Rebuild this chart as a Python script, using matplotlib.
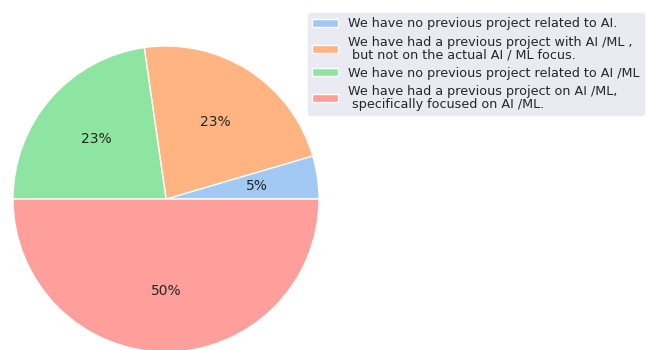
import matplotlib
matplotlib.use("Agg")
import matplotlib.pyplot as plt
import seaborn as sns

sns.set_style("darkgrid")

labels = [
    "We have no previous project related to AI.",
    "We have had a previous project with AI /ML ,\n but not on the actual AI / ML focus.",
    "We have no previous project related to AI /ML",
    "We have had a previous project on AI /ML,\n specifically focused on AI /ML.",
]
counts = [1, 5, 5, 11]
colors = sns.color_palette("pastel")[0:4]

fig = plt.figure(figsize=(6.46, 3.5), dpi=100)
ax = fig.add_axes([13 / 646, -2 / 350, 306 / 646, 306 / 350])
ax.pie(counts, colors=colors, autopct="%.0f%%", textprops={"fontsize": 10},
       wedgeprops={"edgecolor": "white", "linewidth": 1})
ax.set_xlim(-1, 1)
ax.set_ylim(-1, 1)
ax.set_aspect("equal")

leg = fig.legend(labels, loc="upper left", bbox_to_anchor=(308 / 646, 1 - 13 / 350),
                 fontsize=9.2, frameon=True, facecolor="#EAEAF2", edgecolor="#EAEAF2",
                 handlelength=2, handleheight=0.6, borderaxespad=0, labelspacing=0.42,
                 borderpad=0.35, framealpha=1)
for t in leg.get_texts():
    t.set_linespacing(0.95)

fig.savefig("out.png", dpi=100)
